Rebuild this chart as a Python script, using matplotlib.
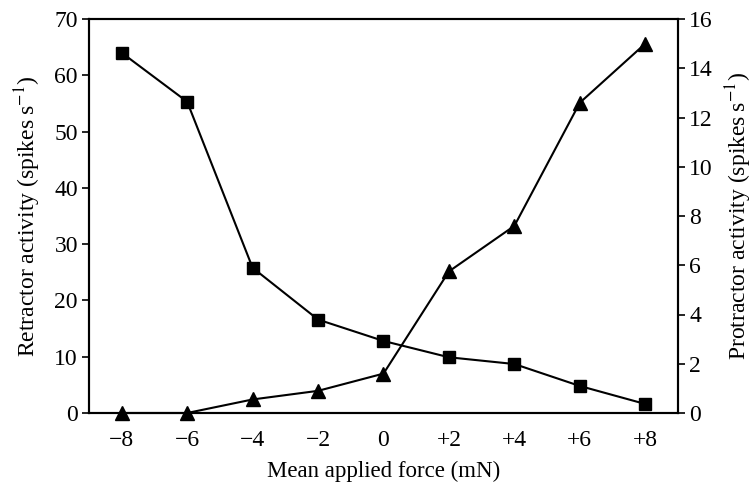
import matplotlib
matplotlib.use("Agg")
import matplotlib.pyplot as plt

force = [-8, -6, -4, -2, 0, 2, 4, 6, 8]
force_labels = ["\u22128", "\u22126", "\u22124", "\u22122", "0", "+2", "+4", "+6", "+8"]
retractor = [64.0, 55.3, 25.8, 16.6, 12.8, 9.9, 8.7, 4.8, 1.6]
protractor = [0.0, 0.0, 0.55, 0.9, 1.6, 5.75, 7.6, 12.6, 15.0]
left_ticks = [0, 10, 20, 30, 40, 50, 60, 70]
right_ticks = [0, 2, 4, 6, 8, 10, 12, 14, 16]

plt.rcParams['font.family'] = ['Liberation Serif', 'DejaVu Serif']
plt.rcParams['mathtext.fontset'] = 'stix'

fig = plt.figure(figsize=(7.56, 4.87), dpi=100)
ax = fig.add_axes([89/756, 1 - 413/487, (678-89)/756, (413-19)/487])
ax2 = ax.twinx()

ax.plot(force, retractor, color='black', lw=1.5, marker='s', ms=8, zorder=3, clip_on=False)
ax2.plot(force, protractor, color='black', lw=1.5, marker='^', ms=10, zorder=3, clip_on=False)

ax.set_xlim(-9, 9)
ax.set_ylim(0, 70)
ax2.set_ylim(0, 16)
ax.set_xticks(force)
ax.set_xticklabels(force_labels)
ax.set_yticks(left_ticks)
ax2.set_yticks(right_ticks)

for a in (ax, ax2):
    for s in a.spines.values():
        s.set_linewidth(1.5)
ax.tick_params(axis='y', direction='out', length=5, width=1.2, labelsize=17, pad=3)
ax2.tick_params(axis='y', direction='out', length=5, width=1.2, labelsize=17, pad=3)
ax.tick_params(axis='x', length=0, labelsize=17, pad=12)

ax.set_xlabel('Mean applied force (mN)', fontsize=16.5, labelpad=7)
ax.set_ylabel('Retractor activity (spikes\u2009s$^{\u22121}$)', fontsize=17, labelpad=8)
ax2.set_ylabel('Protractor activity (spikes\u2009s$^{\u22121}$)', fontsize=17, labelpad=8)

fig.savefig('out.png', dpi=100)
